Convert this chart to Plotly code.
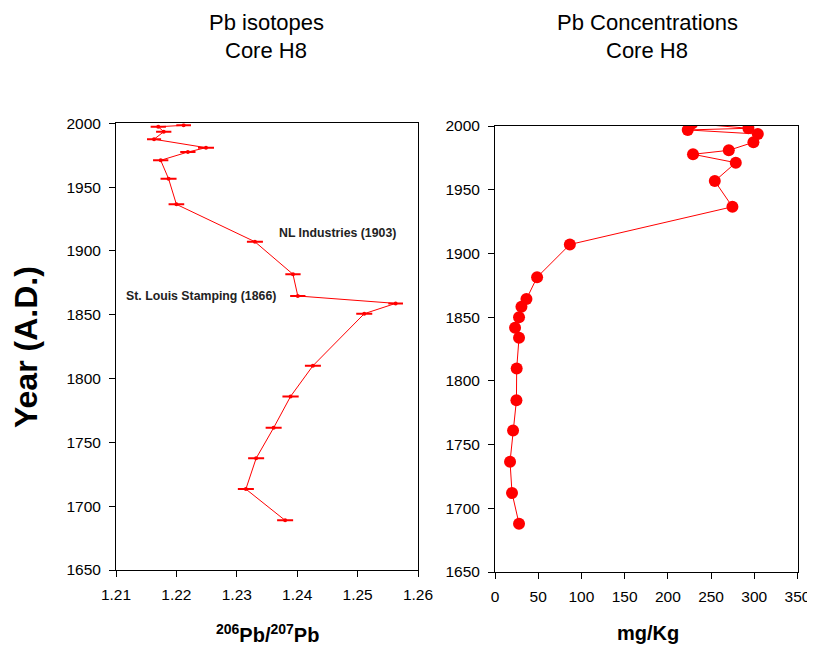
import plotly.graph_objects as go

# ---- Left panel: 206Pb/207Pb isotope ratio vs year ----
iso_year = [1998.4, 1997.3, 1993.4, 1987.5, 1980.9, 1977.5, 1971.0, 1956.6, 1936.5,
            1907.2, 1881.7, 1864.7, 1858.9, 1850.8, 1810.0, 1786.0, 1761.4, 1737.5,
            1713.4, 1688.9]
iso_ratio = [1.2212, 1.2170, 1.2179, 1.2163, 1.2249, 1.2219, 1.2174, 1.2187, 1.2200,
             1.2330, 1.2393, 1.2401, 1.2563, 1.2511, 1.2426, 1.2389, 1.2361, 1.2332,
             1.2315, 1.2380]
iso_err = [0.00105, 0.0011, 0.0011, 0.0010, 0.00116, 0.0011, 0.0011, 0.00116, 0.00113,
           0.00116, 0.0011, 0.0011, 0.00105, 0.00116, 0.00116, 0.00118, 0.00116,
           0.00116, 0.00116, 0.00116]

# ---- Right panel: Pb concentration vs year ----
conc_year = [2002.0, 1998.2, 1996.9, 1993.7, 1987.2, 1980.9, 1977.8, 1971.2, 1956.8,
             1936.6, 1907.0, 1881.3, 1864.2, 1858.2, 1850.0, 1841.7, 1833.9, 1809.7,
             1784.7, 1761.0, 1736.6, 1712.0, 1687.9]
conc_val = [228, 293.2, 223.0, 304.1, 299.0, 270.5, 229.1, 278.6, 254.3, 274.7,
            86.6, 48.7, 36.4, 30.6, 27.8, 23.2, 27.8, 25.1, 24.8, 20.9, 17.4,
            19.7, 27.8]

year_ticks = [1650, 1700, 1750, 1800, 1850, 1900, 1950, 2000]
iso_ticks = [1.21, 1.22, 1.23, 1.24, 1.25, 1.26]
iso_tick_text = ["1.21", "1.22", "1.23", "1.24", "1.25", "1.26"]
conc_ticks = [0, 50, 100, 150, 200, 250, 300, 350]

notes = [("NL Industries (1903)", 1.2466, 1914.0),
         ("St. Louis Stamping (1866)", 1.2241, 1864.9)]

titles_left = ["Pb isotopes", "Core H8"]
titles_right = ["Pb Concentrations", "Core H8"]

# page has an 8px body margin: figure drawn at (8,8)
OFF = 8
W, H = 815 - OFF, 648 - OFF
RED = "#ff0000"
FONT = "Liberation Sans, Arial, sans-serif"


def px(x):
    return (x - OFF) / W


def py(y):
    return 1 - (y - OFF) / H


fig = go.Figure()

fig.add_trace(go.Scatter(
    x=iso_ratio, y=iso_year, mode="lines+markers",
    line=dict(color=RED, width=1),
    marker=dict(color=RED, size=4),
    error_x=dict(type="data", array=iso_err, color=RED, thickness=2, width=1),
    xaxis="x", yaxis="y", showlegend=False, cliponaxis=True,
))

fig.add_trace(go.Scatter(
    x=conc_val, y=conc_year, mode="lines+markers",
    line=dict(color=RED, width=1),
    marker=dict(color=RED, size=12),
    xaxis="x2", yaxis="y2", showlegend=False, cliponaxis=True,
))

axis_common = dict(
    showline=True, mirror=True, linecolor="black", linewidth=1,
    ticks="outside", ticklen=6, tickcolor="black", tickwidth=1,
    showgrid=False, zeroline=False, automargin=False,
    tickfont=dict(family=FONT, size=15.5, color="black"),
)

fig.update_layout(
    width=W, height=H,
    margin=dict(l=0, r=0, t=0, b=0),
    paper_bgcolor="white", plot_bgcolor="white",
    font=dict(family=FONT, color="black"),
    xaxis=dict(domain=[px(116), px(418)], range=[1.21, 1.26], ticklabelstandoff=4,
               tickvals=iso_ticks, ticktext=iso_tick_text, anchor="y", **axis_common),
    yaxis=dict(domain=[py(570), py(123.3)], range=[1650, 2000], ticklabelstandoff=5,
               tickvals=year_ticks, anchor="x", **axis_common),
    xaxis2=dict(domain=[px(495), px(797.5)], range=[0, 350], ticklabelstandoff=4,
                tickvals=conc_ticks, anchor="y2", **axis_common),
    yaxis2=dict(domain=[py(572), py(126)], range=[1650, 2000], ticklabelstandoff=5,
                tickvals=year_ticks, anchor="x2", **axis_common),
)

annots = [
    dict(text=titles_left[0], x=px(266), y=py(8), yanchor="top", font=dict(size=22)),
    dict(text=titles_left[1], x=px(266), y=py(36), yanchor="top", font=dict(size=22)),
    dict(text=titles_right[0], x=px(647), y=py(8), yanchor="top", font=dict(size=22)),
    dict(text=titles_right[1], x=px(647), y=py(36), yanchor="top", font=dict(size=22)),
    dict(text="<b><sup>206</sup>Pb/<sup>207</sup>Pb</b>", x=px(267), y=py(633),
         yanchor="middle", font=dict(size=20)),
    dict(text="<b>mg/Kg</b>", x=px(648), y=py(633), yanchor="middle",
         font=dict(size=20)),
    dict(text="<b>Year (A.D.)</b>", x=px(26), y=py(347), yanchor="middle",
         textangle=-90, font=dict(size=32)),
]
for a in annots:
    a.update(xref="paper", yref="paper", showarrow=False, xanchor="center")
    a["font"].update(family=FONT, color="black")
    fig.add_annotation(**a)

for txt, nx, ny in notes:
    fig.add_annotation(text=f"<b>{txt}</b>", x=nx, y=ny, xref="x", yref="y",
                       showarrow=False, xanchor="center", yanchor="middle",
                       font=dict(family=FONT, size=12.3, color="#222222"))

fig.write_html("out.html")
